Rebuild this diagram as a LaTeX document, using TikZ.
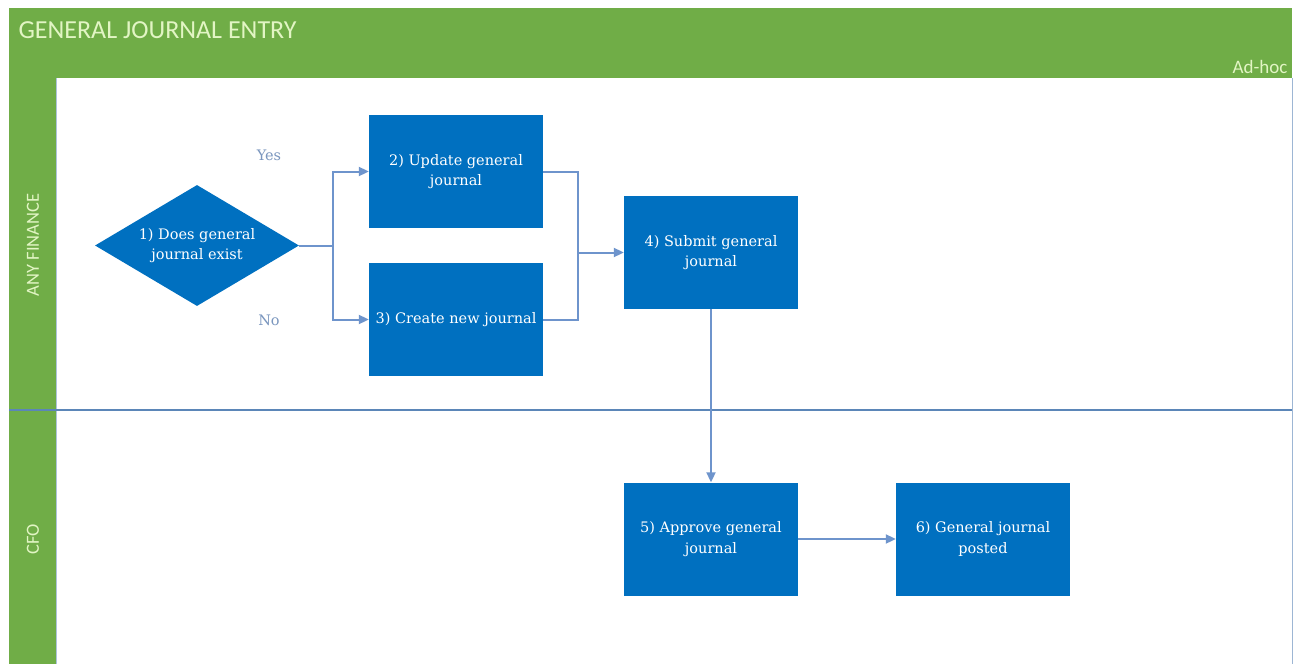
\documentclass[tikz,border=0pt]{standalone}
\usepackage{fontspec}
\setmainfont{DejaVu Serif}
\newfontfamily\headfont{Carlito}
\usetikzlibrary{shapes.geometric,arrows.meta}
\definecolor{lanegreen}{HTML}{70AD47}
\definecolor{boxblue}{HTML}{0070C0}
\definecolor{linkblue}{HTML}{6E94CC}
\definecolor{lanetext}{HTML}{E2F5C4}
\definecolor{rule}{HTML}{5B86B8}
\definecolor{labelgray}{HTML}{7A96BE}
\tikzset{
  stepbox/.style={rectangle, fill=boxblue, draw=none, minimum width=174pt, minimum height=113pt,
    text=white, align=center, font=\fontsize{14.5}{20.5}\selectfont, inner sep=0pt},
  decision/.style={diamond, fill=boxblue, draw=none, minimum width=204pt, minimum height=121pt,
    aspect=1.686, text=white, align=center, font=\fontsize{14.5}{20.5}\selectfont, inner sep=0pt},
  link/.style={draw=linkblue, line width=2pt, -{Triangle[length=10pt,width=9pt]}},
  plain/.style={draw=linkblue, line width=2pt},
  lanelabel/.style={text=lanetext, font=\headfont\fontsize{18.5}{18.5}\selectfont, rotate=90},
  branch/.style={text=labelgray, font=\fontsize{14.5}{14.5}\selectfont}
}
\begin{document}
\begin{tikzpicture}[x=1pt,y=-1pt]
\useasboundingbox (0,0) rectangle (1294,664);
\fill[white] (0,0) rectangle (1294,664);
% header band and lane column
\fill[lanegreen] (9,8) rectangle (1292,78);
\fill[lanegreen] (9,78) rectangle (56,664);
\draw[rule!50, line width=0.8pt] (56,78) -- (56,664);
\draw[rule!60, line width=1pt] (1292,78) -- (1292,664);
\draw[rule, line width=1.2pt] (9,410) -- (1292,410);
\node[anchor=west, text=lanetext, font=\headfont\fontsize{26}{26}\selectfont] (title) at (15,30) {GENERAL JOURNAL ENTRY};
\node[anchor=east, text=lanetext, font=\headfont\fontsize{19}{19}\selectfont] (freq) at (1291,67) {Ad-hoc};
\node[lanelabel] (lane1) at (33,245) {ANY FINANCE};
\node[lanelabel] (lane2) at (33,539) {CFO};
% process steps
\node[decision] (s1) at (197,245.5) {1) Does general\\journal exist};
\node[stepbox] (s2) at (456,171.5) {2) Update general\\journal};
\node[stepbox] (s3) at (456,319.5) {3) Create new journal};
\node[stepbox] (s4) at (711,252.5) {4) Submit general\\journal};
\node[stepbox] (s5) at (711,539) {5) Approve general\\journal};
\node[stepbox] (s6) at (983,539) {6) General journal\\posted};
\node[branch] (yes) at (269,155) {Yes};
\node[branch] (no) at (269,320) {No};
% connectors
\coordinate (split) at (333,245.5);
\coordinate (join) at (578,252.5);
\draw[plain] (s1.east) -- (split);
\draw[link] (split) |- (s2.west);
\draw[link] (split) |- (s3.west);
\draw[plain] (s2.east) -| (join);
\draw[plain] (s3.east) -| (join);
\draw[link] (join) -- (s4.west);
\draw[link] (s4.south) -- (s5.north);
\draw[link] (s5.east) -- (s6.west);
\end{tikzpicture}
\end{document}
